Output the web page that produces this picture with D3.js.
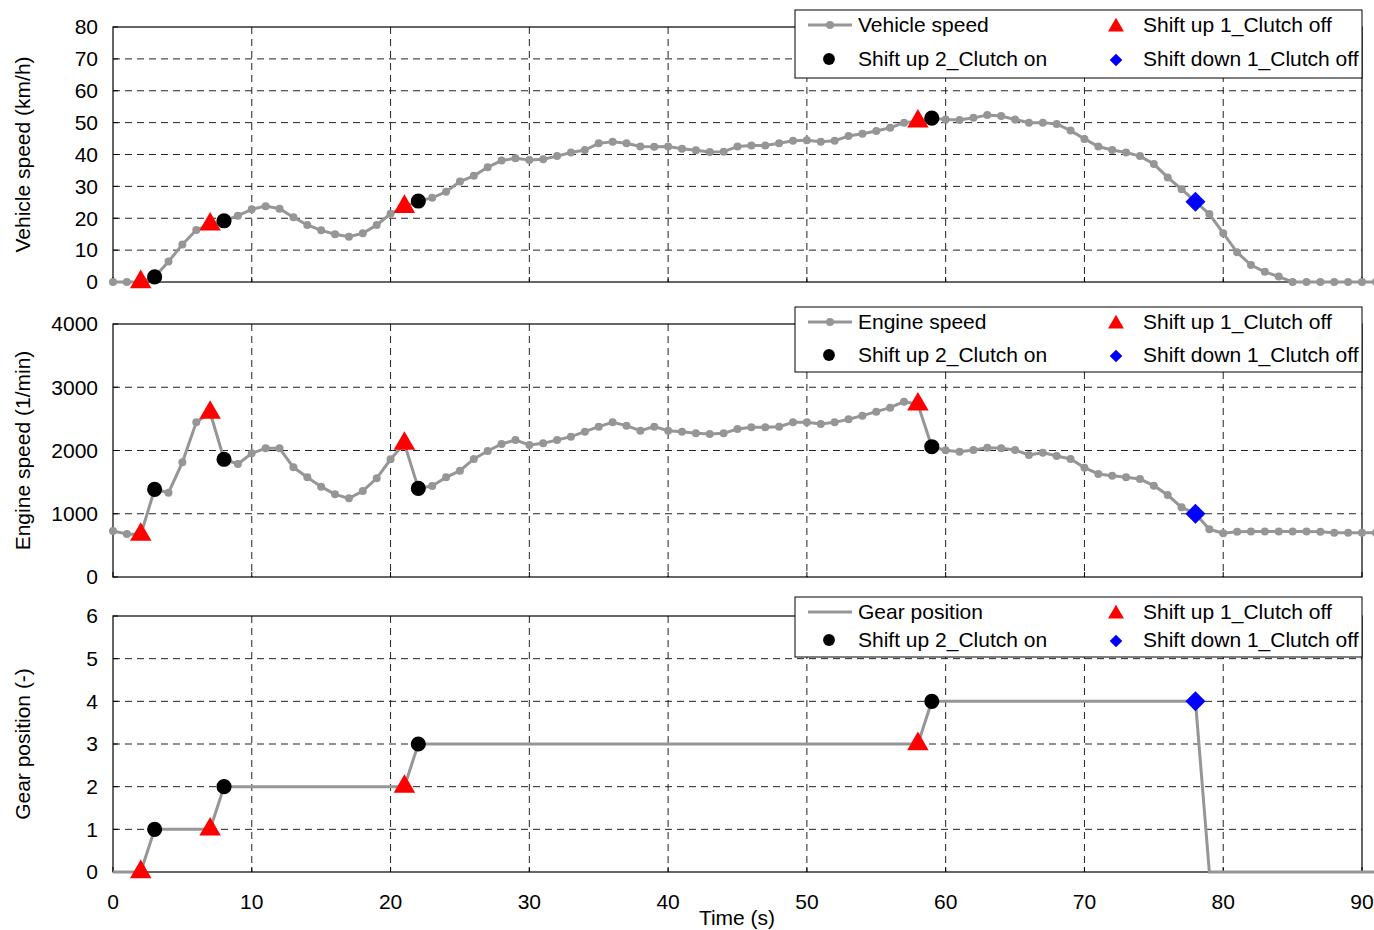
<!DOCTYPE html>
<html><head><meta charset="utf-8">
<script src="https://cdn.jsdelivr.net/npm/d3@7"></script>
<style>body{margin:0;background:#fff}svg{display:block}text{font-family:"Liberation Sans",Arial,sans-serif;fill:#000}</style>
</head><body>
<svg id="c" width="1374" height="930"></svg>
<script>
const time = d3.range(0, 92);
const vehicleSpeed = [0,0,0,1.6,6.4,11.8,16.3,18.1,19.2,20.8,22.8,23.8,23.0,20.3,17.9,16.2,15.0,14.2,15.3,17.9,21.4,23.6,25.4,26.4,28.3,31.5,33.3,36.0,38.1,38.8,38.3,38.5,39.5,40.6,41.4,43.5,44.0,43.5,42.5,42.4,42.5,41.8,41.3,40.8,40.9,42.5,42.8,42.8,43.5,44.3,44.5,44.0,44.3,45.8,46.5,47.4,48.4,50.0,50.4,51.4,51.0,50.8,51.5,52.4,52.1,51.0,50.0,50.0,49.6,47.5,44.9,42.5,41.4,40.6,39.5,37.0,32.8,29.1,25.2,21.3,15.3,9.3,5.3,3.2,1.7,0,0,0,0,0,0,0];
const engineSpeed = [727,680,670,1386,1333,1813,2445,2600,1861,1787,1956,2034,2034,1734,1576,1428,1307,1244,1360,1560,1861,2110,1402,1439,1576,1681,1866,1992,2103,2166,2087,2113,2166,2219,2298,2377,2445,2393,2313,2377,2313,2298,2271,2261,2271,2340,2366,2366,2377,2445,2445,2419,2445,2493,2551,2614,2677,2772,2730,2060,2003,1982,2008,2045,2034,2008,1929,1966,1913,1866,1729,1629,1602,1576,1549,1444,1296,1101,1000,754,691,717,720,720,720,720,720,715,700,700,700,700];
const gearPosition = [0,0,0,1,1,1,1,1,2,2,2,2,2,2,2,2,2,2,2,2,2,2,3,3,3,3,3,3,3,3,3,3,3,3,3,3,3,3,3,3,3,3,3,3,3,3,3,3,3,3,3,3,3,3,3,3,3,3,3,4,4,4,4,4,4,4,4,4,4,4,4,4,4,4,4,4,4,4,4,0,0,0,0,0,0,0,0,0,0,0,0,0];
const shiftUp1 = [2,7,21,58];
const shiftUp2 = [3,8,22,59];
const shiftDown1 = [78];
const xTicks = [0,10,20,30,40,50,60,70,80,90];

const svg = d3.select('#c');
const x = d3.scaleLinear().domain([0,90]).range([113,1362]);
const GREY = '#969696';
const FONT = 21;

const panels = [
  {series: vehicleSpeed, name:'Vehicle speed', title:'Vehicle speed (km/h)', domain:[0,80], step:10, top:27, bottom:282, dots:true, leg:{y0:10,y1:78,r1:25,r2:59}},
  {series: engineSpeed, name:'Engine speed', title:'Engine speed (1/min)', domain:[0,4000], step:1000, top:324, bottom:577, dots:true, leg:{y0:307,y1:372,r1:322,r2:355}},
  {series: gearPosition, name:'Gear position', title:'Gear position (-)', domain:[0,6], step:1, top:616, bottom:872, dots:false, leg:{y0:597,y1:657,r1:612,r2:640}}
];

const tri = d3.symbol().type(d3.symbolTriangle);
const circ = d3.symbol().type(d3.symbolCircle);
const sq = d3.symbol().type(d3.symbolSquare);

panels.forEach((p, pi) => {
  const y = d3.scaleLinear().domain(p.domain).range([p.bottom, p.top]);
  const g = svg.append('g');
  const yTicks = d3.range(p.domain[0], p.domain[1] + p.step/2, p.step);
  g.selectAll('.hg').data(yTicks.slice(1, -1)).join('line')
    .attr('x1', x(0)).attr('x2', x(90)).attr('y1', d=>y(d)).attr('y2', d=>y(d))
    .attr('stroke', '#222').attr('stroke-width', 1).attr('stroke-dasharray', '7,5');
  g.selectAll('.vg').data(xTicks.slice(1, -1)).join('line')
    .attr('x1', d=>x(d)).attr('x2', d=>x(d)).attr('y1', p.top).attr('y2', p.bottom)
    .attr('stroke', '#222').attr('stroke-width', 1).attr('stroke-dasharray', '7,5');
  g.append('rect').attr('x', x(0)).attr('y', p.top).attr('width', x(90)-x(0)).attr('height', p.bottom-p.top)
    .attr('fill', 'none').attr('stroke', '#000').attr('stroke-width', 1.2);
  g.selectAll('.yt').data(yTicks).join('line')
    .attr('x1', x(0)).attr('x2', x(0)+5).attr('y1', d=>y(d)).attr('y2', d=>y(d)).attr('stroke','#000');
  g.selectAll('.xt').data(xTicks).join('line')
    .attr('x1', d=>x(d)).attr('x2', d=>x(d)).attr('y1', p.bottom).attr('y2', p.bottom-5).attr('stroke','#000');
  g.selectAll('.yl').data(yTicks).join('text')
    .attr('x', 98).attr('y', d=>y(d)).attr('dy', '0.35em').attr('text-anchor','end')
    .attr('font-size', FONT).text(d=>d);
  g.append('text').attr('transform', `translate(30,${(p.top+p.bottom)/2}) rotate(-90)`)
    .attr('text-anchor','middle').attr('font-size', FONT).text(p.title);
  const data = time.map((t,i)=>({t, v:p.series[i]}));
  const line = d3.line().x(d=>x(d.t)).y(d=>y(d.v));
  g.append('path').datum(data).attr('d', line).attr('fill','none').attr('stroke', GREY).attr('stroke-width', 3);
  if (p.dots) {
    g.selectAll('.dot').data(data).join('circle')
      .attr('cx', d=>x(d.t)).attr('cy', d=>y(d.v)).attr('r', 4).attr('fill', GREY);
  }
  g.selectAll('.su1').data(shiftUp1).join('path')
    .attr('d', tri.size(200)()).attr('transform', t=>`translate(${x(t)},${y(p.series[t])})`).attr('fill','#ff0000');
  g.selectAll('.su2').data(shiftUp2).join('path')
    .attr('d', circ.size(180)()).attr('transform', t=>`translate(${x(t)},${y(p.series[t])})`).attr('fill','#000');
  g.selectAll('.sd1').data(shiftDown1).join('path')
    .attr('d', sq.size(200)()).attr('transform', t=>`translate(${x(t)},${y(p.series[t])}) rotate(45)`).attr('fill','#0000ff');
  const L = p.leg;
  const lg = svg.append('g');
  lg.append('rect').attr('x', 795).attr('y', L.y0).attr('width', 1362-795).attr('height', L.y1-L.y0)
    .attr('fill','#fff').attr('stroke','#000').attr('stroke-width',1);
  lg.append('line').attr('x1', 808).attr('x2', 852).attr('y1', L.r1).attr('y2', L.r1).attr('stroke', GREY).attr('stroke-width', 3);
  if (p.dots) lg.append('circle').attr('cx', 830).attr('cy', L.r1).attr('r', 4).attr('fill', GREY);
  lg.append('text').attr('x', 858).attr('y', L.r1).attr('dy','0.35em').attr('font-size', FONT).text(p.name);
  lg.append('path').attr('d', tri.size(110)()).attr('transform', `translate(1116,${L.r1+2})`).attr('fill','#ff0000');
  lg.append('text').attr('x', 1143).attr('y', L.r1).attr('dy','0.35em').attr('font-size', FONT).text('Shift up 1_Clutch off');
  lg.append('path').attr('d', circ.size(110)()).attr('transform', `translate(829,${L.r2})`).attr('fill','#000');
  lg.append('text').attr('x', 858).attr('y', L.r2).attr('dy','0.35em').attr('font-size', FONT).text('Shift up 2_Clutch on');
  lg.append('path').attr('d', sq.size(80)()).attr('transform', `translate(1116,${L.r2+1}) rotate(45)`).attr('fill','#0000ff');
  lg.append('text').attr('x', 1143).attr('y', L.r2).attr('dy','0.35em').attr('font-size', FONT).text('Shift down 1_Clutch off');
});

svg.selectAll('.xl').data(xTicks).join('text')
  .attr('x', d=>x(d)).attr('y', 902).attr('dy','0.35em').attr('text-anchor','middle').attr('font-size', FONT).text(d=>d);
svg.append('text').attr('x', 737).attr('y', 918).attr('dy','0.35em').attr('text-anchor','middle').attr('font-size', FONT).text('Time (s)');
</script>
</body></html>
